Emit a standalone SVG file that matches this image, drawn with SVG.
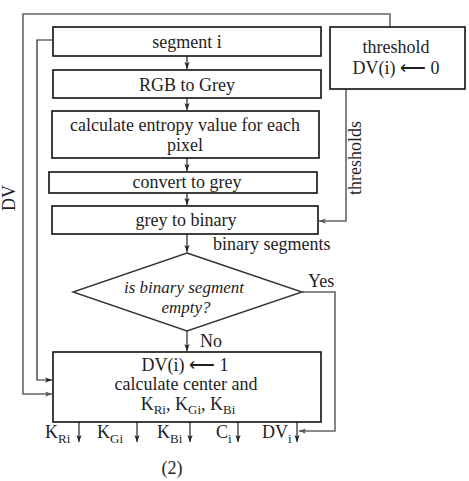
<svg xmlns="http://www.w3.org/2000/svg" width="469" height="481" viewBox="0 0 469 481">
<defs>
<marker id="arr" viewBox="0 0 8 6" refX="8" refY="3" markerWidth="7" markerHeight="6" markerUnits="userSpaceOnUse" orient="auto">
<path d="M0,0 L8,3 L0,6 L2,3 z" fill="#222"/>
</marker>
<marker id="arrg" viewBox="0 0 8 6" refX="8" refY="3" markerWidth="7" markerHeight="6" markerUnits="userSpaceOnUse" orient="auto">
<path d="M0,0 L8,3 L0,6 L2,3 z" fill="#555"/>
</marker>
</defs>
<style>
text{font-family:"Liberation Serif","Times New Roman",serif;fill:#1e1e1e;font-size:18px}
.c{text-anchor:middle}
.it{font-style:italic;font-size:17px}
.sub{font-size:13px}
.box{fill:#fff;stroke:#111;stroke-width:1.6}
.dia{fill:#fff;stroke:#333;stroke-width:1.4}
.ln{fill:none;stroke:#222;stroke-width:1.2}
.gl{fill:none;stroke:#666;stroke-width:1.6}
</style>
<rect width="469" height="481" fill="#fff"/>

<g id="connectors">
<path class="gl" d="M390,27 V14 H23 V394 H52" marker-end="url(#arrg)"/>
<path class="ln" d="M53,40 H37 V380 H52" marker-end="url(#arr)"/>
<path class="gl" d="M346,89 V221 H319" marker-end="url(#arrg)"/>
<path class="ln" d="M187,56 V69" marker-end="url(#arr)"/>
<path class="ln" d="M187,98 V110" marker-end="url(#arr)"/>
<path class="ln" d="M187,158 V171" marker-end="url(#arr)"/>
<path class="ln" d="M187,193 V205" marker-end="url(#arr)"/>
<path class="ln" d="M187,234 V252" marker-end="url(#arr)"/>
<path class="ln" d="M187,331 V351" marker-end="url(#arr)"/>
<path class="gl" d="M302,292 H335 V431 H299" marker-end="url(#arrg)"/>
<path class="ln" d="M79,422 V442" marker-end="url(#arr)"/>
<path class="ln" d="M137,422 V442" marker-end="url(#arr)"/>
<path class="ln" d="M190,422 V442" marker-end="url(#arr)"/>
<path class="ln" d="M238,422 V442" marker-end="url(#arr)"/>
<path class="ln" d="M297,422 V442" marker-end="url(#arr)"/>
<text x="10" y="198" class="c" transform="rotate(-90 10 198)" dy="5">DV</text>
<text x="355" y="158" class="c" transform="rotate(-90 355 158)" dy="6">thresholds</text>
<text x="213" y="250">binary segments</text>
<text x="308" y="287">Yes</text>
<text x="200" y="347">No</text>
</g>

<g id="segment">
<rect class="box" x="53" y="27" width="268" height="29"/>
<text x="187" y="48" class="c">segment  i</text>
</g>
<g id="rgb">
<rect class="box" x="53" y="70" width="268" height="28"/>
<text x="187" y="91" class="c">RGB to Grey</text>
</g>
<g id="entropy">
<rect class="box" x="52" y="111" width="267" height="47"/>
<text x="185" y="131" class="c">calculate  entropy value for each</text>
<text x="185" y="151" class="c">pixel</text>
</g>
<g id="convert">
<rect class="box" x="49" y="172" width="268" height="21"/>
<text x="187" y="188" class="c">convert to grey</text>
</g>
<g id="binary">
<rect class="box" x="52" y="206" width="266" height="28"/>
<text x="186" y="226" class="c">grey to binary</text>
</g>
<g id="threshold">
<rect class="box" x="330" y="27" width="135" height="62"/>
<text x="396" y="53" class="c">threshold</text>
<text x="396" y="74" class="c">DV(i) ⟵ 0</text>
</g>
<g id="decision">
<polygon class="dia" points="187,253 302,292 187,331 73,292"/>
<text x="184" y="293" class="c it">is binary segment</text>
<text x="186" y="313" class="c it">empty?</text>
</g>
<g id="compute">
<rect class="box" x="53" y="352" width="268" height="70"/>
<text x="185" y="371" class="c">DV(i) ⟵ 1</text>
<text x="186" y="390" class="c">calculate  center and</text>
<text x="188" y="410" class="c">K<tspan class="sub" dy="4">Ri</tspan><tspan dy="-4">, K</tspan><tspan class="sub" dy="4">Gi</tspan><tspan dy="-4">, K</tspan><tspan class="sub" dy="4">Bi</tspan></text>
</g>
<g id="outputs">
<text x="45" y="438">K<tspan class="sub" dy="5">Ri</tspan></text>
<text x="97" y="438">K<tspan class="sub" dy="5">Gi</tspan></text>
<text x="157" y="438">K<tspan class="sub" dy="5">Bi</tspan></text>
<text x="216" y="438">C<tspan class="sub" dy="5">i</tspan></text>
<text x="262" y="438">DV<tspan class="sub" dy="5">i</tspan></text>
<text x="172" y="474" class="c">(2)</text>
</g>
</svg>
